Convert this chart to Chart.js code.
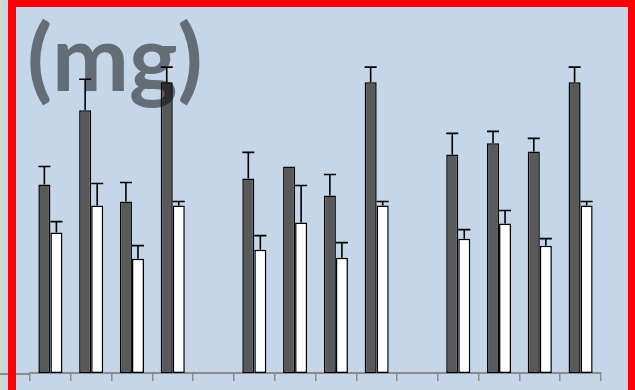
<!DOCTYPE html>
<html>
<head>
<meta charset="utf-8">
<script src="https://cdn.jsdelivr.net/npm/chart.js@4.4.1/dist/chart.umd.min.js"></script>
<style>
  html, body { margin: 0; padding: 0; }
  body { width: 635px; height: 390px; background: #c5d6e8; position: relative; overflow: hidden; }
  #edge { position: absolute; left: 0; top: 0; width: 2px; height: 390px; background: #d3ddb6; }
  #wrap { position: absolute; left: 0; top: 0; width: 635px; height: 390px; }
  #frame { position: absolute; left: 8px; top: 0; width: 627px; height: 420px; box-sizing: border-box;
           border-left: 8px solid #ff0000; border-top: 7px solid #ff0000; border-right: 7px solid #ff0000; }
  #unit { position: absolute; left: 27px; top: 4px; font-family: Lato, sans-serif; font-weight: bold;
          font-size: 92px; line-height: 104px; color: rgba(0, 0, 0, 0.49); white-space: nowrap; }
</style>
</head>
<body>
<div id="edge"></div>
<div id="wrap"><canvas id="chart" width="635" height="390"></canvas></div>
<div id="frame"></div>
<div id="unit">(mg)</div>
<script>
// 14 slots: three groups of four, an empty slot between groups
const categories = ['1', '2', '3', '4', '', '6', '7', '8', '9', '', '11', '12', '13', '14'];
const darkValues = [18.8, 26.2, 17.1, 29.0, null, 19.4, 20.6, 17.7, 29.0, null, 21.8, 22.9, 22.1, 29.0];
const darkErrors = [1.8, 3.1, 1.9, 1.5, null, 2.6, 0, 2.1, 1.5, null, 2.1, 1.2, 1.3, 1.5];
const whiteValues = [14.0, 16.7, 11.4, 16.7, null, 12.3, 15.0, 11.5, 16.7, null, 13.4, 14.9, 12.7, 16.7];
const whiteErrors = [1.1, 2.2, 1.3, 0.4, null, 1.4, 3.7, 1.5, 0.4, null, 0.9, 1.3, 0.7, 0.4];
const yMax = 36.2;

const errorBars = {
  id: 'errorBars',
  afterDatasetsDraw(chart) {
    const ctx = chart.ctx;
    const y = chart.scales.y;
    ctx.save();
    ctx.strokeStyle = '#000';
    ctx.lineWidth = 1.6;
    chart.data.datasets.forEach((ds, i) => {
      const meta = chart.getDatasetMeta(i);
      meta.data.forEach((bar, j) => {
        const v = ds.data[j];
        const e = ds.errors[j];
        if (v == null || !e) return;
        const top = y.getPixelForValue(v + e);
        const half = bar.width / 2;
        ctx.beginPath();
        ctx.moveTo(bar.x, bar.y);
        ctx.lineTo(bar.x, top);
        ctx.moveTo(bar.x - half, top);
        ctx.lineTo(bar.x + half, top);
        ctx.stroke();
      });
    });
    ctx.restore();
  },
  afterDraw(chart) {
    // axis line runs on past the first tick to the left edge
    const ctx = chart.ctx;
    const area = chart.chartArea;
    ctx.save();
    ctx.strokeStyle = '#8c8c8c';
    ctx.lineWidth = 2;
    ctx.beginPath();
    ctx.moveTo(0, area.bottom + 1);
    ctx.lineTo(area.left, area.bottom + 1);
    ctx.stroke();
    ctx.restore();
  }
};

new Chart(document.getElementById('chart'), {
  type: 'bar',
  data: {
    labels: categories,
    datasets: [
      {
        data: darkValues,
        errors: darkErrors,
        backgroundColor: '#595959',
        borderColor: '#000',
        borderWidth: 1.5,
        borderSkipped: false
      },
      {
        data: whiteValues,
        errors: whiteErrors,
        backgroundColor: '#ffffff',
        borderColor: '#000',
        borderWidth: 1.5,
        borderSkipped: false
      }
    ]
  },
  options: {
    responsive: false,
    animation: false,
    devicePixelRatio: 1,
    categoryPercentage: 0.59,
    barPercentage: 1,
    layout: { padding: { left: 30, right: 34, top: 10, bottom: 9 } },
    plugins: { legend: { display: false }, tooltip: { enabled: false } },
    scales: {
      x: {
        ticks: { display: false },
        grid: { offset: true, drawOnChartArea: false, tickLength: 8, color: '#8c8c8c', lineWidth: 1.5 },
        border: { color: '#8c8c8c', width: 2 }
      },
      y: { display: false, min: 0, max: yMax }
    }
  },
  plugins: [errorBars]
});
</script>
</body>
</html>
